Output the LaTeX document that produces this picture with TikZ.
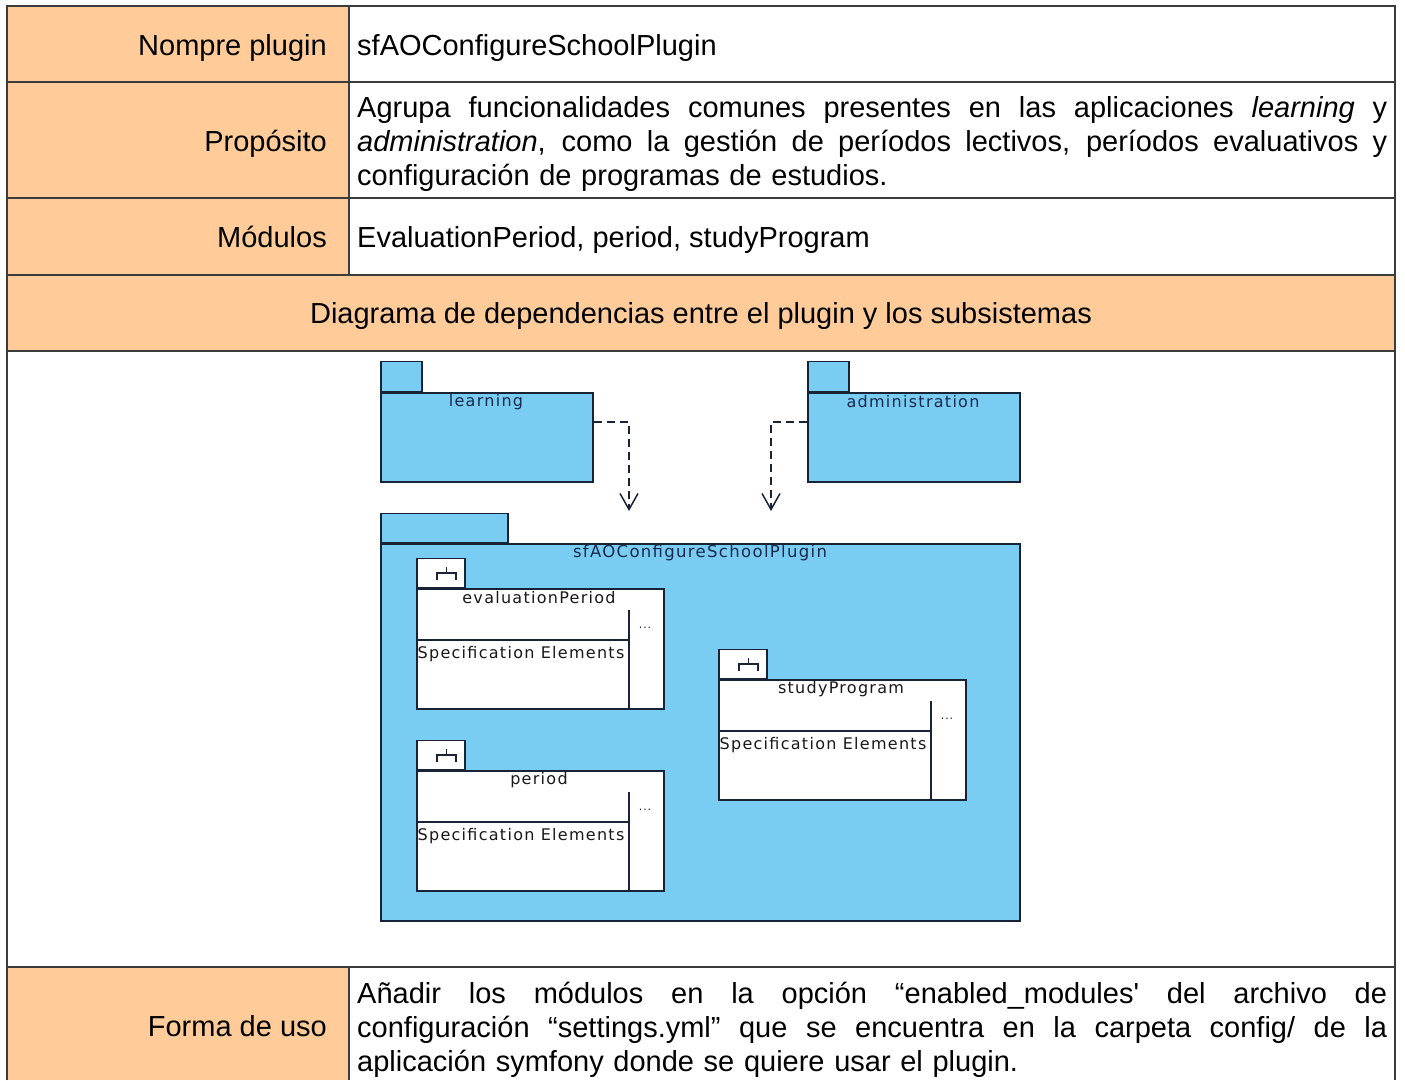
\documentclass[tikz,border=0pt]{standalone}
\usepackage{fontspec}
\setmainfont{Liberation Sans}
\newfontfamily\umlfont[LetterSpace=8]{DejaVu Sans}
\usetikzlibrary{arrows.meta,calc}
\definecolor{peach}{RGB}{255,204,153}
\definecolor{pkgblue}{RGB}{122,205,242}
\definecolor{pkgline}{RGB}{25,35,55}
\definecolor{tabline}{RGB}{60,60,60}
\definecolor{pkgtext}{RGB}{25,40,75}
\newcommand\jline[1]{\leavevmode\hbox to 1030pt{\spaceskip=0.28em plus 1fil\relax #1}}
\tikzset{
  tableline/.style={draw=tabline, line width=1.3pt},
  lab/.style={font=\fontsize{29}{34}\selectfont, inner sep=0pt, anchor=base east},
  txt/.style={font=\fontsize{29}{34}\selectfont, inner sep=0pt, anchor=base west},
  pkg/.style={draw=pkgline, fill=pkgblue, line width=1.5pt, rectangle, anchor=north west, inner sep=0pt},
  mod/.style={draw=pkgline, fill=white, line width=1.5pt, rectangle, anchor=north west, inner sep=0pt},
  umllab/.style={font=\umlfont\fontsize{16}{19}\selectfont, text=pkgtext, inner sep=0pt},
  modlab/.style={font=\umlfont\fontsize{16}{19}\selectfont, text=black!90, inner sep=0pt},
  modline/.style={draw=pkgline, line width=1.5pt},
  iconline/.style={draw=pkgline, line width=1.2pt},
  dep/.style={draw=pkgline, line width=1.5pt, dash pattern=on 8pt off 5pt,
    -{Straight Barb[length=16pt,width=18pt,line width=1.5pt]}},
}
\newcommand\modpkg[4]{%
  \node[mod, minimum width=247pt, minimum height=120pt] (#1) at (#2,#3) {};
  \node[mod, anchor=south west, minimum width=48pt, minimum height=29pt] (#1tab) at (#2,#3) {};
  \draw[iconline] ($(#1.north west)+(21,-8)$) -- ++(0,-7) -- ++(19,0) -- ++(0,7);
  \draw[iconline] ($(#1.north west)+(30.5,-15)$) -- ++(0,-6);
  \node[modlab] (#1lab) at ($(#1.north west)+(123,10)$) {#4};
  \draw[modline] ($(#1.north west)+(213,22)$) -- ($(#1.north west)+(213,120)$);
  \draw[modline] ($(#1.north west)+(0,52)$) -- ($(#1.north west)+(213,52)$);
  \node[modlab] (#1spec) at ($(#1.north west)+(105,66)$) {Specification Elements};
  \node[modlab, font=\umlfont\fontsize{11}{13}\selectfont] (#1dots) at ($(#1.north west)+(229,40)$) {...};
}
\begin{document}
\begin{tikzpicture}[x=1pt,y=-1pt]
\useasboundingbox[fill=white] (0,0) rectangle (1405,1080);
% table fills
\fill[peach] (7,6) rectangle (349,275);
\fill[peach] (7,275) rectangle (1395,351);
\fill[peach] (7,967) rectangle (349,1080);
% table lines
\draw[tableline] (7,1080) -- (7,6) -- (1395,6) -- (1395,1080);
\foreach \yy in {82,198,275,351,967} {\draw[tableline] (7,\yy) -- (1395,\yy);}
\draw[tableline] (349,6) -- (349,275);
\draw[tableline] (349,967) -- (349,1080);
% table texts
\node[lab] (l1) at (327,55) {Nompre plugin};
\node[txt] (v1) at (357,55) {sfAOConfigureSchoolPlugin};
\node[lab] (l2) at (327,151) {Propósito};
\node[txt, text width=1030pt, align=left] (v2) at (357,117) {%
\jline{Agrupa funcionalidades comunes presentes en las aplicaciones \textit{learning} y}\\
\jline{\textit{administration}, como la gestión de períodos lectivos, períodos evaluativos y}\\
configuración de programas de estudios.};
\node[lab] (l3) at (327,247) {Módulos};
\node[txt] (v3) at (357,247) {EvaluationPeriod, period, studyProgram};
\node[txt, anchor=base] (h4) at (701,323) {Diagrama de dependencias entre el plugin y los subsistemas};
\node[lab] (l6) at (327,1036) {Forma de uso};
\node[txt, text width=1030pt, align=left] (v6) at (357,1003) {%
\jline{Añadir los módulos en la opción “enabled\_modules\textquotesingle{} del archivo de}\\
\jline{configuración “settings.yml” que se encuentra en la carpeta config/ de la}\\
aplicación symfony donde se quiere usar el plugin.};
% learning package
\node[pkg, minimum width=212pt, minimum height=89pt] (learn) at (380,392) {};
\node[pkg, anchor=south west, minimum width=41pt, minimum height=30pt] (learntab) at (380,392) {};
\node[umllab] (learnlab) at (486,402) {learning};
% administration package
\node[pkg, minimum width=212pt, minimum height=89pt] (admin) at (807,392) {};
\node[pkg, anchor=south west, minimum width=41pt, minimum height=30pt] (admintab) at (807,392) {};
\node[umllab] (adminlab) at (913,402) {administration};
% dependencies
\coordinate (le) at (629,511);
\coordinate (ae) at (771,511);
\draw[dep] ([yshift=-30pt]learn.north east) -| (le);
\draw[dep] ([yshift=-30pt]admin.north west) -| (ae);
% main package
\node[pkg, minimum width=639pt, minimum height=377pt] (main) at (380,543) {};
\node[pkg, anchor=south west, minimum width=127pt, minimum height=29pt] (maintab) at (380,543) {};
\node[umllab, font=\umlfont\fontsize{16.5}{19}\selectfont] (mainlab) at (700,553) {sfAOConfigureSchoolPlugin};
% modules
\modpkg{ep}{416}{588}{evaluationPeriod}
\modpkg{pe}{416}{770}{period}
\modpkg{sp}{718}{679}{studyProgram}
\end{tikzpicture}
\end{document}
